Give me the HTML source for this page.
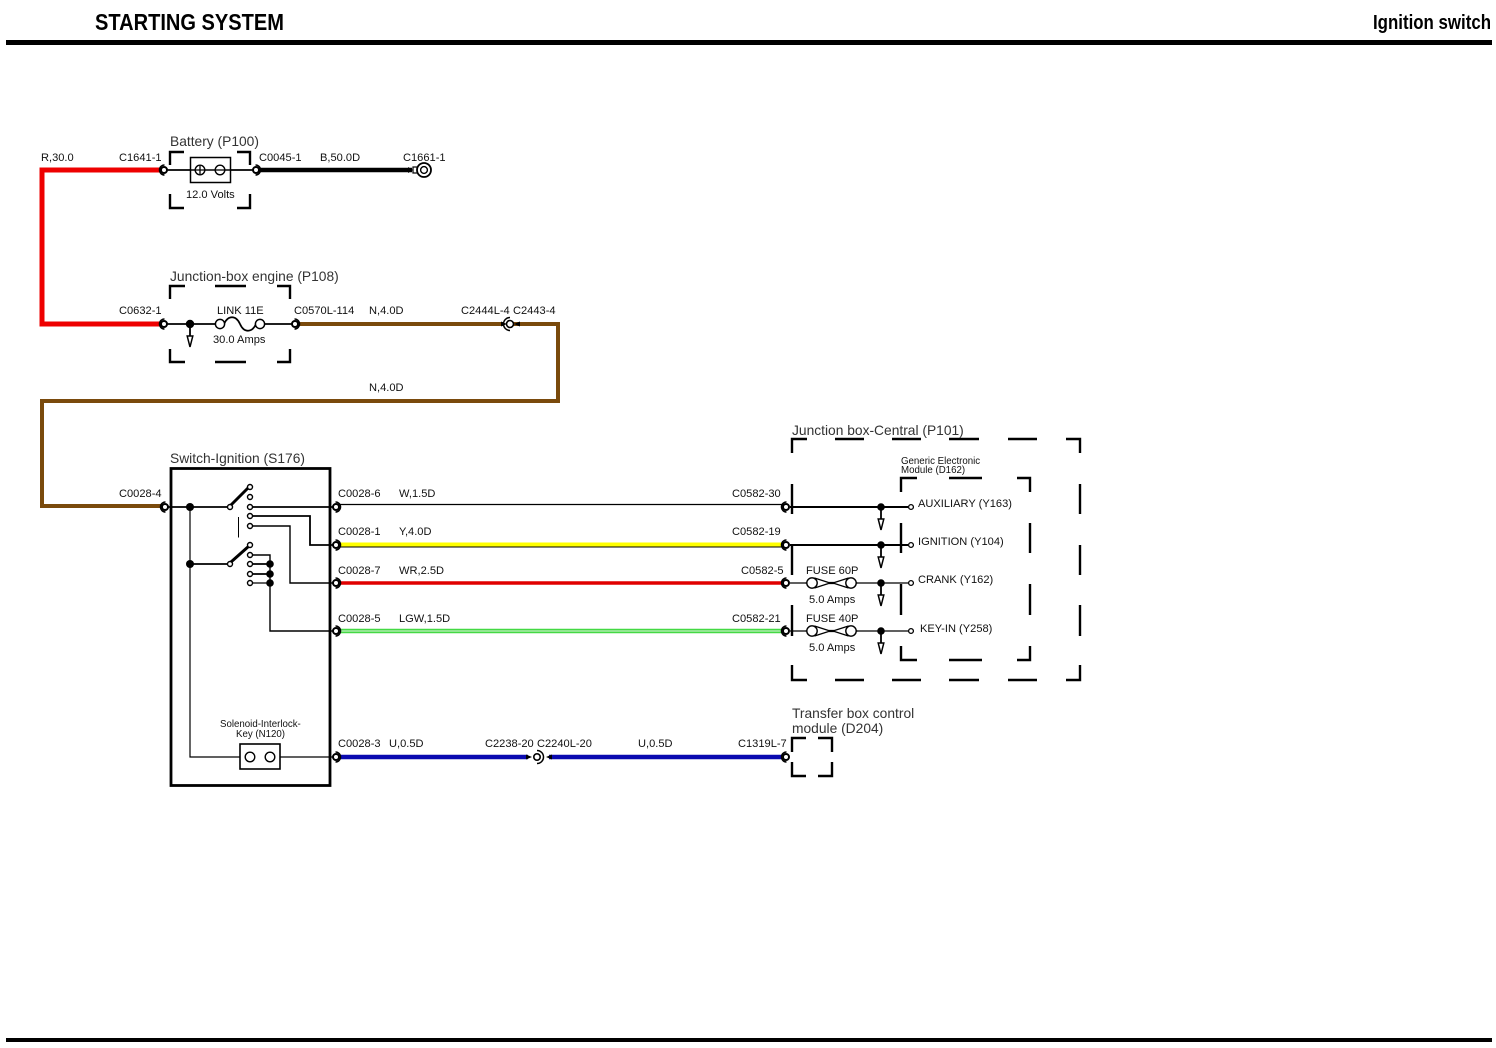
<!DOCTYPE html>
<html><head><meta charset="utf-8"><title>Starting System - Ignition switch</title>
<style>
html,body{margin:0;padding:0;background:#fff;width:1496px;height:1048px;overflow:hidden}
svg{display:block}
text{font-family:"Liberation Sans",Arial,sans-serif;font-size:11.1px;fill:#111}
.g{font-size:13.8px;fill:#333}
.s{font-size:9.7px}
.h{font-weight:bold;fill:#000}
</style></head><body>
<svg width="1496" height="1048" viewBox="0 0 1496 1048" xmlns="http://www.w3.org/2000/svg">
<defs>
<g id="cn"><circle r="3" fill="#fff" stroke="#000" stroke-width="2"/><path d="M0.500 -5A5 5 0 0 0 0.500 5" fill="none" stroke="#000" stroke-width="1.500"/></g>
<g id="cr"><circle r="3" fill="#fff" stroke="#000" stroke-width="2"/><path d="M-0.500 -5A5 5 0 0 1 -0.500 5" fill="none" stroke="#000" stroke-width="1.500"/></g>
<g id="ar"><path d="M0 0V13" stroke="#000" stroke-width="1.800" fill="none"/><path d="M-2.800 12H2.800L0 23Z" fill="#fff" stroke="#000" stroke-width="1.500"/></g>
<g id="fu"><path d="M-26 0H-19M19 0H26" stroke="#000" stroke-width="1.300"/><path d="M-17 -5L-3 -0.500L3 -0.500L17 -5M-17 5L-3 0.500L3 0.500L17 5" fill="none" stroke="#000" stroke-width="1.300"/><circle cx="-19.500" r="5.200" fill="#fff" stroke="#000" stroke-width="1.400"/><circle cx="19.500" r="5.200" fill="#fff" stroke="#000" stroke-width="1.400"/></g>
</defs>

<!-- header / footer -->
<rect x="6" y="40" width="1486" height="5" fill="#000"/>
<rect x="6" y="1038" width="1486" height="4" fill="#000"/>
<text x="95" y="30" class="h" style="font-size:23.500px" textLength="189" lengthAdjust="spacingAndGlyphs">STARTING SYSTEM</text>
<text x="1373" y="29" class="h" style="font-size:20px" textLength="118" lengthAdjust="spacingAndGlyphs">Ignition switch</text>

<!-- coloured wires -->
<g fill="none" stroke-linejoin="miter">
<path d="M162 170H42V324H162" stroke="#ee0000" stroke-width="5"/>
<path d="M297 324H503M513 324H558V401H42V506H162" stroke="#7a4a0c" stroke-width="4"/>
<path d="M258 170H412" stroke="#000" stroke-width="4.500"/>
<path d="M340 504.500H786" stroke="#000" stroke-width="1.200"/>
<path d="M340 547H786" stroke="#000" stroke-width="1"/>
<path d="M340 544.500H782" stroke="#ffff00" stroke-width="4"/>
<path d="M340 583H782" stroke="#e00000" stroke-width="3.600"/>
<path d="M340 631H782" stroke="#44d944" stroke-width="4.400"/>
<path d="M340 631H782" stroke="#dff5df" stroke-width="1"/>
<path d="M340 757H528M549 757H782" stroke="#0a0ab0" stroke-width="4.600"/>
</g>

<!-- dashed component boxes -->
<g fill="none" stroke="#000" stroke-width="2.400">
<path d="M170 165V152H184M237 152H250V165M170 194V208H184M237 208H250V194"/>
<path d="M170 299V286H185M215 286H246M277 286H290V299M170 349V362H185M215 362H246M277 362H290V349"/>
<path d="M807 439H792V453M835 439H864M892 439H921M949 439H979M1008 439H1037M1066 439H1080V453M792 484V514M792 545V575M792 605V636M1080 484V514M1080 545V575M1080 605V636M792 665V680H807M835 680H864M892 680H921M949 680H979M1008 680H1037M1066 680H1080V665"/>
<path d="M901 492V478H917M949 478H982M1017 478H1030V492M901 523V553M901 584V615M1030 523V553M1030 584V615M901 646V660H917M949 660H982M1017 660H1030V646"/>
<path d="M792 752V738H806M818 738H832V752M792 762V776H806M818 776H832V762"/>
</g>

<!-- battery -->
<path d="M166 170H254" stroke="#000" stroke-width="1.800"/>
<rect x="190.500" y="157.500" width="40" height="25" fill="#fff" stroke="#000" stroke-width="1.500"/>
<path d="M190 170H230" stroke="#000" stroke-width="1.600"/>
<circle cx="200" cy="170" r="4.800" fill="#fff" stroke="#000" stroke-width="1.400"/><path d="M196 170H204M200 166V174" stroke="#000" stroke-width="1.300"/>
<circle cx="220" cy="170" r="4.800" fill="#fff" stroke="#000" stroke-width="1.400"/><path d="M216 170H224" stroke="#000" stroke-width="1.300"/>
<use href="#cn" x="164" y="170"/><use href="#cr" x="256" y="170"/>
<path d="M408 167L413 170L408 173Z" fill="#000"/>
<rect x="413" y="167" width="5" height="6" fill="#fff" stroke="#000" stroke-width="1.200"/>
<circle cx="424" cy="170" r="7" fill="#fff" stroke="#000" stroke-width="1.800"/><circle cx="424" cy="170" r="3.400" fill="#fff" stroke="#000" stroke-width="1.400"/>

<!-- link -->
<path d="M166 324H216M264 324H293" stroke="#000" stroke-width="1.800"/>
<circle cx="190" cy="324" r="4.200" fill="#000"/>
<use href="#ar" x="190" y="324"/>
<path d="M224 324C228 315 236 315 240 324C244 333 252 333 256 324" fill="none" stroke="#000" stroke-width="1.700"/>
<circle cx="220" cy="324" r="4.600" fill="#fff" stroke="#000" stroke-width="1.500"/>
<circle cx="260" cy="324" r="4.600" fill="#fff" stroke="#000" stroke-width="1.500"/>
<use href="#cn" x="164" y="324"/><use href="#cr" x="295" y="324"/>
<path d="M501 321.500L507 324L501 326.500Z" fill="#000"/><path d="M520 321.500L514 324L520 326.500Z" fill="#000"/>
<circle cx="510" cy="324" r="3.500" fill="#fff" stroke="#000" stroke-width="1.600"/>
<path d="M510 317.500A6.500 6.500 0 0 0 510 330.500" fill="none" stroke="#000" stroke-width="1.500"/>

<!-- ignition switch -->
<rect x="171" y="468.500" width="159" height="317" fill="none" stroke="#000" stroke-width="2.800"/>
<g fill="none" stroke="#000" stroke-width="1.800">
<path d="M167 507H230M250 507H333"/>
<path d="M250 516H310V545H333"/>
<path d="M250 526H290V583H333" stroke-width="1.400"/>
<path d="M190 507V757H240M280 757H333" stroke-width="1.200"/>
<path d="M190 564H230"/>
<path d="M250 555H270V631H333" stroke-width="1.400"/>
<path d="M250 564H270M250 574H270" />
<path d="M250 583H270" stroke-width="1.300"/>
<path d="M238.500 517V537.500" stroke-width="1"/>
<path d="M231 505L249 487M231 562L249 546" stroke-width="3"/>
</g>
<g fill="#000"><circle cx="190" cy="507" r="4"/><circle cx="190" cy="564" r="4"/><circle cx="270" cy="564" r="3.800"/><circle cx="270" cy="574" r="3.800"/><circle cx="270" cy="583" r="3.800"/></g>
<g fill="#fff" stroke="#000" stroke-width="1.400">
<circle cx="230" cy="507" r="2.500"/><circle cx="250" cy="487" r="2.500"/><circle cx="250" cy="497" r="2.500"/><circle cx="250" cy="507" r="2.500"/><circle cx="250" cy="516" r="2.500"/><circle cx="250" cy="526" r="2.500"/>
<circle cx="230" cy="564" r="2.500"/><circle cx="250" cy="545" r="2.500"/><circle cx="250" cy="555" r="2.500"/><circle cx="250" cy="564" r="2.500"/><circle cx="250" cy="574" r="2.500"/><circle cx="250" cy="583" r="2.500"/>
</g>
<rect x="240" y="744" width="40" height="25" fill="#fff" stroke="#000" stroke-width="1.600"/>
<circle cx="250" cy="757" r="4.800" fill="#fff" stroke="#000" stroke-width="1.400"/>
<circle cx="270" cy="757" r="4.800" fill="#fff" stroke="#000" stroke-width="1.400"/>
<use href="#cn" x="165" y="507"/>
<use href="#cr" x="336" y="507"/><use href="#cr" x="336" y="545"/><use href="#cr" x="336" y="583"/><use href="#cr" x="336" y="631"/><use href="#cr" x="336" y="757"/>

<!-- central box wiring -->
<g fill="none" stroke="#000">
<path d="M790 507H908M790 545H908" stroke-width="2"/>
<path d="M790 583H806M856 583H908M790 631H806M856 631H908" stroke-width="1.300"/>
</g>
<use href="#ar" x="881" y="507"/><use href="#ar" x="881" y="545"/><use href="#ar" x="881" y="583"/><use href="#ar" x="881" y="631"/>
<g fill="#000"><circle cx="881" cy="507" r="3.800"/><circle cx="881" cy="545" r="3.800"/><circle cx="881" cy="583" r="3.800"/><circle cx="881" cy="631" r="3.800"/></g>
<g fill="#fff" stroke="#000" stroke-width="1.300"><circle cx="911" cy="507" r="2.400"/><circle cx="911" cy="545" r="2.400"/><circle cx="911" cy="583" r="2.400"/><circle cx="911" cy="631" r="2.400"/></g>
<use href="#fu" x="831.500" y="583"/><use href="#fu" x="831.500" y="631"/>
<use href="#cn" x="786" y="507"/><use href="#cn" x="786" y="545"/><use href="#cn" x="786" y="583"/><use href="#cn" x="786" y="631"/><use href="#cn" x="786" y="757"/>

<!-- inline blue connector -->
<path d="M526 754.500L532 757L526 759.500Z" fill="#000"/><path d="M552 754.500L546 757L552 759.500Z" fill="#000"/>
<circle cx="537" cy="757" r="3.200" fill="#fff" stroke="#000" stroke-width="1.600"/>
<path d="M537 750.500A6.500 6.500 0 0 1 537 763.500" fill="none" stroke="#000" stroke-width="1.500"/>

<!-- labels -->
<text x="41" y="161">R,30.0</text>
<text x="119" y="161">C1641-1</text>
<text x="170" y="146" class="g">Battery (P100)</text>
<text x="259" y="161">C0045-1</text>
<text x="320" y="161">B,50.0D</text>
<text x="403" y="161">C1661-1</text>
<text x="186" y="198">12.0 Volts</text>
<text x="170" y="281" class="g">Junction-box engine (P108)</text>
<text x="119" y="314">C0632-1</text>
<text x="217" y="314">LINK 11E</text>
<text x="213" y="343">30.0 Amps</text>
<text x="294" y="314">C0570L-114</text>
<text x="369" y="314">N,4.0D</text>
<text x="461" y="314">C2444L-4</text>
<text x="513" y="314">C2443-4</text>
<text x="369" y="391">N,4.0D</text>
<text x="170" y="463" class="g">Switch-Ignition (S176)</text>
<text x="119" y="497">C0028-4</text>
<text x="338" y="497">C0028-6</text><text x="399" y="497">W,1.5D</text><text x="732" y="497">C0582-30</text>
<text x="338" y="535">C0028-1</text><text x="399" y="535">Y,4.0D</text><text x="732" y="535">C0582-19</text>
<text x="338" y="574">C0028-7</text><text x="399" y="574">WR,2.5D</text><text x="741" y="574">C0582-5</text>
<text x="338" y="622">C0028-5</text><text x="399" y="622">LGW,1.5D</text><text x="732" y="622">C0582-21</text>
<text x="338" y="747">C0028-3</text><text x="389" y="747">U,0.5D</text>
<text x="485" y="747">C2238-20</text><text x="537" y="747">C2240L-20</text>
<text x="638" y="747">U,0.5D</text><text x="738" y="747">C1319L-7</text>
<text x="792" y="435" class="g">Junction box-Central (P101)</text>
<text x="901" y="464" class="s">Generic Electronic</text>
<text x="901" y="473" class="s">Module (D162)</text>
<text x="918" y="507">AUXILIARY (Y163)</text>
<text x="918" y="545">IGNITION (Y104)</text>
<text x="918" y="583">CRANK (Y162)</text>
<text x="920" y="632">KEY-IN (Y258)</text>
<text x="806" y="574">FUSE 60P</text><text x="809" y="603">5.0 Amps</text>
<text x="806" y="622">FUSE 40P</text><text x="809" y="651">5.0 Amps</text>
<text x="220" y="727" class="s">Solenoid-Interlock-</text>
<text x="236" y="737" class="s">Key (N120)</text>
<text x="792" y="718" class="g">Transfer box control</text>
<text x="792" y="733" class="g">module (D204)</text>
</svg>
</body></html>
